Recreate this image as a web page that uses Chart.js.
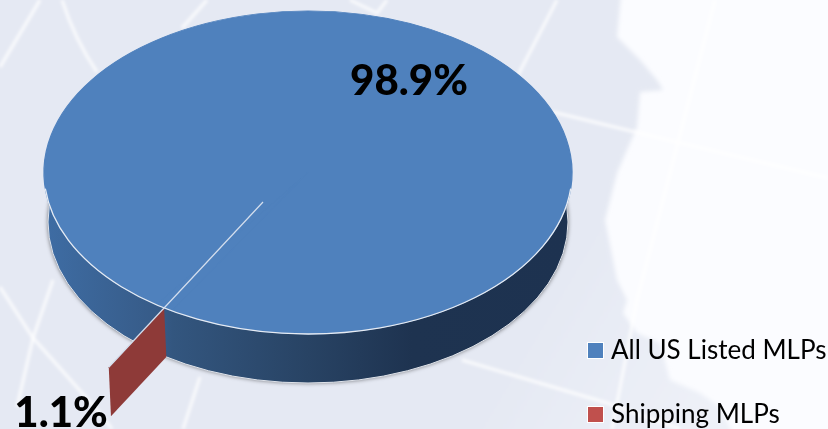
<!DOCTYPE html>
<html>
<head>
<meta charset="utf-8">
<title>MLP share</title>
<style>
  html, body { margin: 0; padding: 0; background: #fbfcff; }
  #wrap { position: relative; width: 828px; height: 429px; overflow: hidden; }
  #bg, #chart { position: absolute; left: 0; top: 0; }
</style>
</head>
<body>
<div id="wrap">
  <!-- map backdrop, decoration only -->
  <svg id="bg" width="828" height="429" viewBox="0 0 828 429">
    <defs>
      <filter id="soft"><feGaussianBlur stdDeviation="1.6"/></filter>
      <filter id="soft2"><feGaussianBlur stdDeviation="2.2"/></filter>
      <linearGradient id="land" gradientUnits="userSpaceOnUse" x1="300" y1="150" x2="720" y2="400">
        <stop offset="0" stop-color="#e5e9f3"/>
        <stop offset="0.6" stop-color="#e5e9f3"/>
        <stop offset="1" stop-color="#eef1f8"/>
      </linearGradient>
    </defs>
    <rect width="828" height="429" fill="#fbfcff"/>
    <path filter="url(#soft2)" fill="url(#land)" d="M-5 -5 L621 -5 L617 37 L640 60 L657 80 L663 90 L640 92 L637 127 L630 143 L617 173 L605 220 L613 260 L617 280 L627 300 L623 313 L637 333 L660 343 L670 380 L700 393 L720 407 L733 434 L-5 434 Z"/>
    <g fill="none" stroke="#ffffff" stroke-opacity="0.7" stroke-width="3.5" filter="url(#soft)">
      <path d="M0 67 L40 0"/>
      <path d="M62 0 Q75 40 97 72"/>
      <path d="M182 28 L207 0"/>
      <path d="M350 0 L377 13 L387 0"/>
      <path d="M557 0 L518 75"/>
      <path d="M553 112 L672 141 L828 178"/>
      <path d="M715 0 L637 300 L612 429"/>
      <path d="M0 287 L33 338 L100 413 L112 429"/>
      <path d="M53 280 L33 338 L17 407"/>
      <path d="M200 377 L183 429"/>
      <path d="M462 360 L607 403 L680 429"/>
    </g>
  </svg>
  <canvas id="chart" width="828" height="429"></canvas>
</div>
<script src="https://cdn.jsdelivr.net/npm/chart.js@4"></script>
<script>
  const categories = ['All US Listed MLPs', 'Shipping MLPs'];
  const shares = [98.9, 1.1];
  const legendColors = ['#4f81bd', '#c0504d'];
  const valueLabels = ['98.9%', '1.1%'];

  /* the picture is a tilted 3D pie: top face and base as two ellipses */
  const topFace = { x: 308, y: 172.5, rx: 264, ry: 161.5 };
  const base = { x: 308, y: 222, rx: 260, ry: 161 };
  const apex = { x: 263, y: 202 };   // where the slices meet, moved by perspective
  const explode = 0.56;              // how far the small slice is pulled out
  const labelSpots = [[409, 81], [61, 413]];
  const legendSpots = [[588, 343], [588, 407]];

  function onEllipse(e, a) {
    return { x: e.x + e.rx * Math.cos(a), y: e.y + e.ry * Math.sin(a) };
  }

  const pie3d = {
    id: 'pie3d',
    beforeDatasetsDraw(chart) {
      const ctx = chart.ctx;
      const arc = chart.getDatasetMeta(0).data[0];

      // side wall
      const g = ctx.createLinearGradient(48, 0, 568, 0);
      g.addColorStop(0, '#3e6ca3');
      g.addColorStop(0.22, '#365a86');
      g.addColorStop(0.24, '#33567f');
      g.addColorStop(0.5, '#284364');
      g.addColorStop(0.7, '#1e3350');
      g.addColorStop(1, '#1d3250');
      ctx.save();
      ctx.shadowColor = 'rgba(0,0,0,0.55)';
      ctx.shadowBlur = 4;
      ctx.beginPath();
      ctx.ellipse(base.x, base.y, base.rx, base.ry, 0, 0, Math.PI * 2);
      ctx.fillStyle = g;
      ctx.fill();
      ctx.restore();
      ctx.beginPath();
      ctx.ellipse(base.x, base.y, base.rx, base.ry, 0, 0, Math.PI * 2);
      ctx.strokeStyle = '#dfe3ea';
      ctx.lineWidth = 1;
      ctx.stroke();

      // squeeze the library's round pie into the top face
      ctx.save();
      ctx.translate(topFace.x, topFace.y);
      ctx.scale(topFace.rx / arc.outerRadius, topFace.ry / arc.outerRadius);
      ctx.translate(-arc.x, -arc.y);
    },
    afterDatasetsDraw(chart) {
      const ctx = chart.ctx;
      ctx.restore();

      // small slice sits edge-on, only its cut face shows
      const small = chart.getDatasetMeta(0).data[1];
      const mid = (small.startAngle + small.endAngle) / 2;
      const p0 = onEllipse(topFace, mid);
      const p1 = onEllipse(base, mid);
      const p3 = { x: p0.x + (p0.x - apex.x) * explode, y: p0.y + (p0.y - apex.y) * explode };
      const p2 = { x: p3.x + p1.x - p0.x, y: p3.y + p1.y - p0.y };

      ctx.beginPath();
      ctx.moveTo(p0.x, p0.y);
      ctx.lineTo(p1.x, p1.y);
      ctx.lineTo(p2.x, p2.y);
      ctx.lineTo(p3.x, p3.y);
      ctx.closePath();
      ctx.fillStyle = '#8e3a38';
      ctx.fill();

      // rim highlight on the front half
      ctx.beginPath();
      ctx.ellipse(topFace.x, topFace.y, topFace.rx, topFace.ry, 0, 0.1, Math.PI - 0.1);
      ctx.strokeStyle = '#e6ebf3';
      ctx.lineWidth = 1.3;
      ctx.stroke();

      // seam between the slices
      ctx.beginPath();
      ctx.moveTo(apex.x, apex.y);
      ctx.lineTo(p3.x, p3.y);
      ctx.strokeStyle = '#d5dfee';
      ctx.lineWidth = 1.2;
      ctx.stroke();
    },
    afterDraw(chart) {
      const ctx = chart.ctx;
      ctx.save();
      ctx.fillStyle = '#000';
      ctx.textBaseline = 'middle';

      ctx.font = '900 42px Lato';
      ctx.textAlign = 'center';
      valueLabels.forEach((t, i) => ctx.fillText(t, labelSpots[i][0], labelSpots[i][1]));

      ctx.font = '26px Lato';
      ctx.textAlign = 'left';
      categories.forEach((t, i) => {
        const [x, y] = legendSpots[i];
        ctx.fillStyle = '#fff';
        ctx.fillRect(x - 1, y - 1, 17, 17);
        ctx.fillStyle = legendColors[i];
        ctx.fillRect(x, y, 15, 15);
        ctx.fillStyle = '#000';
        ctx.fillText(t, x + 23, y + 7.5);
      });
      ctx.restore();
    }
  };

  new Chart(document.getElementById('chart'), {
    type: 'pie',
    data: {
      labels: categories,
      datasets: [{
        data: shares,
        backgroundColor: ['#4f81bd', '#4f81bd'],  // small slice has no visible top in the picture
        borderColor: '#4f81bd',
        borderWidth: 1
      }]
    },
    options: {
      responsive: false,
      animation: false,
      rotation: 215,
      plugins: {
        legend: { display: false },
        tooltip: { enabled: false }
      }
    },
    plugins: [pie3d]
  });
</script>
</body>
</html>
